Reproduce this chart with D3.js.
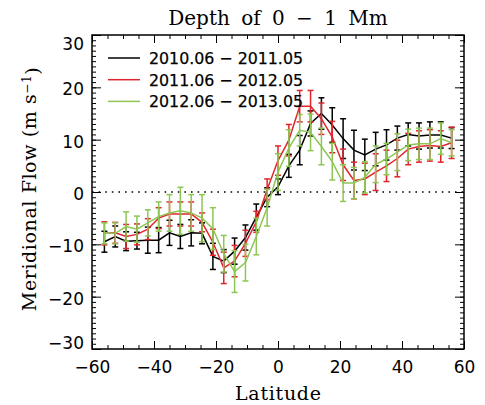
<!DOCTYPE html>
<html>
<head>
<meta charset="utf-8">
<script src="https://cdn.jsdelivr.net/npm/d3@7"></script>
<style>
  html, body { margin: 0; padding: 0; background: #fff; }
  svg { display: block; }
</style>
</head>
<body>
<svg id="chart" width="485" height="405"></svg>
<script>
// ---------------- data ----------------
const latitudes = [-56, -52.5, -49, -45.5, -42, -38.5, -35, -31.5, -28, -24.5, -21, -17.5, -14, -10.5, -7, -3.5,
  0, 3.5, 7, 10.5, 14, 17.5, 21, 24.5, 28, 31.5, 35, 38.5, 42, 45.5, 49, 52.5, 56];

const flow2010 = [-9.5, -8.5, -9.4, -9.3, -9.2, -9.2, -7.8, -8.5, -7.8, -7.9, -12.3, -13.2, -11.3, -8.7, -4.8, -1.0,
  1.0, 5.0, 8.0, 13.1, 15.0, 12.8, 10.2, 8.0, 7.1, 8.2, 9.0, 10.3, 11.0, 10.7, 10.9, 10.9, 10.3];
const err2010 = [2.0, 2.0, 1.8, 1.6, 2.5, 2.4, 2.4, 2.3, 2.5, 2.0, 2.5, 2.2, 2.5, 2.4, 2.5, 1.8,
  1.5, 2.2, 2.8, 2.4, 3.0, 3.3, 3.8, 3.8, 3.0, 3.2, 2.9, 2.3, 2.2, 2.5, 2.5, 2.5, 2.0];

const flow2011 = [-7.9, -7.8, -8.5, -8.1, -7.1, -5.0, -4.2, -4.2, -4.2, -5.8, -9.6, -14.5, -13.2, -9.8, -5.7, 0.5,
  6.0, 9.9, 16.4, 16.4, 14.0, 10.5, 5.2, 2.2, 2.5, 3.8, 5.0, 6.4, 8.2, 8.7, 8.9, 8.7, 9.4];
const err2011 = [2.2, 2.0, 2.3, 2.0, 2.0, 2.0, 2.3, 2.3, 2.3, 1.8, 2.5, 3.0, 3.0, 2.5, 2.0, 2.0,
  2.8, 3.0, 3.0, 3.0, 3.0, 3.0, 3.0, 3.5, 3.0, 3.5, 3.0, 3.5, 3.0, 3.0, 3.0, 3.0, 3.0];

const flow2012 = [-7.9, -7.9, -6.6, -7.1, -5.9, -4.7, -4.0, -3.6, -4.0, -5.0, -7.0, -11.8, -15.2, -13.5, -8.5, -3.0,
  3.8, 8.4, 11.8, 11.4, 8.7, 5.8, 1.7, 1.7, 2.8, 5.3, 6.3, 7.6, 9.0, 9.2, 9.2, 10.2, 9.4];
const err2012 = [2.0, 2.0, 2.8, 2.5, 2.5, 2.8, 3.5, 4.5, 3.5, 4.5, 4.0, 3.5, 4.0, 3.5, 3.5, 3.5,
  3.5, 3.5, 3.0, 3.5, 3.5, 3.5, 3.5, 3.0, 3.0, 3.5, 3.0, 3.5, 3.0, 3.0, 3.0, 3.0, 2.5];

const seriesNames = ["2010.06 \u2212 2011.05", "2011.06 \u2212 2012.05", "2012.06 \u2212 2013.05"];
const seriesColors = ["#000000", "#e0262c", "#8dc653"];

const xTicks = [-60, -40, -20, 0, 20, 40, 60];
const yTicks = [-30, -20, -10, 0, 10, 20, 30];
const titleText = "Depth of 0 \u2212 1 Mm";
const xTitle = "Latitude";
const yTitle = "Meridional Flow (m s";

// ---------------- layout ----------------
const svg = d3.select("#chart");
const L = 92, R = 464, T = 35, B = 349;
const x = d3.scaleLinear().domain([-60, 60]).range([L, R]);
const y = d3.scaleLinear().domain([-30, 30]).range([B, T]);

const fmt = d => (d < 0 ? "\u2212" + Math.abs(d) : String(d));
const sansFont = "DejaVu Sans, sans-serif";
const serifFont = "DejaVu Serif, serif";

const xMinor = d3.range(-60, 60.01, 5);
const yMinor = d3.range(-30, 30.01, 1);

function styleAxis(g) {
  g.select(".domain").remove();
  g.selectAll(".tick line").attr("stroke", "#000").attr("stroke-width", 1);
}

svg.append("g").attr("transform", `translate(0,${B})`)
  .call(d3.axisBottom(x).tickValues(xTicks).tickSize(-8).tickPadding(12).tickFormat(fmt))
  .call(styleAxis)
  .call(g => g.selectAll("text").attr("font-family", sansFont).attr("font-size", 17).attr("fill", "#000"));
svg.append("g").attr("transform", `translate(0,${B})`)
  .call(d3.axisBottom(x).tickValues(xMinor).tickSize(-4).tickFormat(""))
  .call(styleAxis);
svg.append("g").attr("transform", `translate(0,${T})`)
  .call(d3.axisTop(x).tickValues(xTicks).tickSize(-8).tickFormat(""))
  .call(styleAxis);
svg.append("g").attr("transform", `translate(0,${T})`)
  .call(d3.axisTop(x).tickValues(xMinor).tickSize(-4).tickFormat(""))
  .call(styleAxis);
svg.append("g").attr("transform", `translate(${L},0)`)
  .call(d3.axisLeft(y).tickValues(yTicks).tickSize(-9).tickPadding(8).tickFormat(fmt))
  .call(styleAxis)
  .call(g => g.selectAll("text").attr("font-family", sansFont).attr("font-size", 17).attr("fill", "#000")
    .attr("dy", d => d === 30 ? "0.85em" : (d === -30 ? "-0.05em" : "0.45em")));
svg.append("g").attr("transform", `translate(${L},0)`)
  .call(d3.axisLeft(y).tickValues(yMinor).tickSize(-4).tickFormat(""))
  .call(styleAxis);
svg.append("g").attr("transform", `translate(${R},0)`)
  .call(d3.axisRight(y).tickValues(yTicks).tickSize(-9).tickFormat(""))
  .call(styleAxis);
svg.append("g").attr("transform", `translate(${R},0)`)
  .call(d3.axisRight(y).tickValues(yMinor).tickSize(-4).tickFormat(""))
  .call(styleAxis);

svg.append("rect").attr("x", L).attr("y", T).attr("width", R - L).attr("height", B - T)
  .attr("fill", "none").attr("stroke", "#000").attr("stroke-width", 1.5);

svg.append("line").attr("x1", L).attr("x2", R).attr("y1", y(0)).attr("y2", y(0))
  .attr("stroke", "#000").attr("stroke-width", 1.6).attr("stroke-dasharray", "1.6,5");

// ---------------- series ----------------
const allSeries = [
  { vals: flow2010, errs: err2010 },
  { vals: flow2011, errs: err2011 },
  { vals: flow2012, errs: err2012 }
];
const line = d3.line().x(d => x(d[0])).y(d => y(d[1]));
const cap = 3;

allSeries.forEach((s, si) => {
  const col = seriesColors[si];
  const g = svg.append("g");
  const pts = latitudes.map((lat, i) => [lat, s.vals[i], s.errs[i]]);
  g.append("path").datum(pts).attr("d", line).attr("fill", "none")
    .attr("stroke", col).attr("stroke-width", 1.5);
  const eb = g.selectAll(".eb").data(pts).enter().append("g");
  eb.append("line").attr("x1", d => x(d[0])).attr("x2", d => x(d[0]))
    .attr("y1", d => y(d[1] - d[2])).attr("y2", d => y(d[1] + d[2]))
    .attr("stroke", col).attr("stroke-width", 1.5);
  eb.append("line").attr("x1", d => x(d[0]) - cap).attr("x2", d => x(d[0]) + cap)
    .attr("y1", d => y(d[1] + d[2])).attr("y2", d => y(d[1] + d[2]))
    .attr("stroke", col).attr("stroke-width", 1.5);
  eb.append("line").attr("x1", d => x(d[0]) - cap).attr("x2", d => x(d[0]) + cap)
    .attr("y1", d => y(d[1] - d[2])).attr("y2", d => y(d[1] - d[2]))
    .attr("stroke", col).attr("stroke-width", 1.5);
});

// ---------------- legend ----------------
const legend = svg.append("g");
seriesNames.forEach((name, i) => {
  const ly = 58 + i * 21.7;
  legend.append("line").attr("x1", 108).attr("x2", 140).attr("y1", ly).attr("y2", ly)
    .attr("stroke", seriesColors[i]).attr("stroke-width", 1.5);
  legend.append("text").attr("x", 149).attr("y", ly).attr("dy", "0.36em")
    .attr("font-family", sansFont).attr("font-size", 16.5).attr("fill", "#000")
    .attr("stroke", "#000").attr("stroke-width", 0.25)
    .attr("textLength", 154).attr("lengthAdjust", "spacingAndGlyphs")
    .text(name);
});

// ---------------- titles ----------------
svg.append("text").attr("x", (L + R) / 2).attr("y", 25).attr("text-anchor", "middle")
  .attr("font-family", serifFont).attr("font-size", 20).attr("fill", "#000")
  .attr("word-spacing", 5)
  .text(titleText);

svg.append("text").attr("x", (L + R) / 2).attr("y", 400).attr("text-anchor", "middle")
  .attr("font-family", serifFont).attr("font-size", 19).attr("fill", "#000")
  .attr("textLength", 86).attr("lengthAdjust", "spacing")
  .text(xTitle);

const yt = svg.append("text")
  .attr("transform", `translate(36,${(T + B) / 2 - 3}) rotate(-90)`)
  .attr("text-anchor", "middle")
  .attr("font-family", serifFont).attr("font-size", 19).attr("fill", "#000")
  .attr("letter-spacing", 0.6);
yt.append("tspan").text(yTitle);
yt.append("tspan").attr("dy", "-0.45em").attr("font-size", 12).text("\u22121");
yt.append("tspan").attr("dy", "0.45em").text(")");
</script>
</body>
</html>
